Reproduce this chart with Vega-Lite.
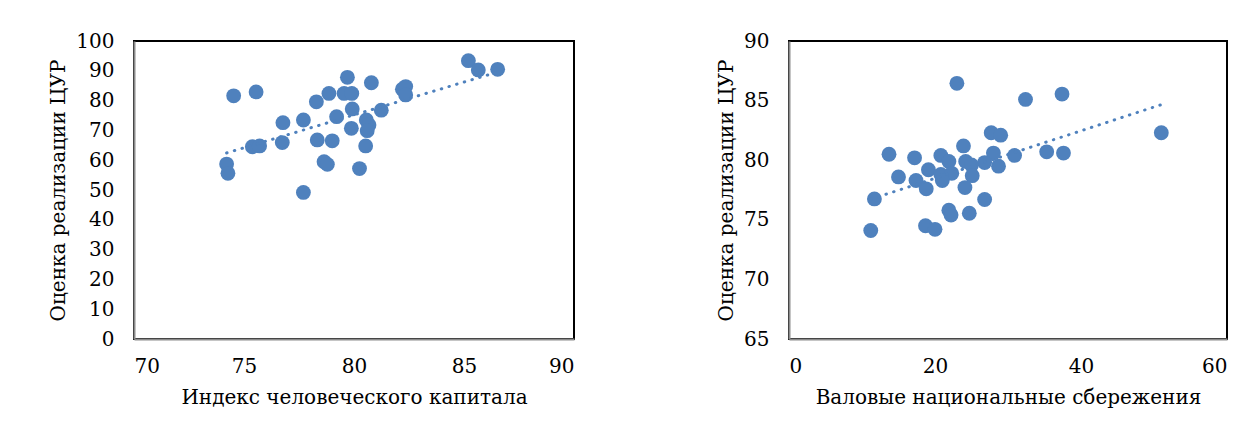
{
  "$schema": "https://vega.github.io/schema/vega-lite/v6.json",
  "background": "white",
  "padding": {"left": 47, "top": 30, "right": 5, "bottom": 5},
  "spacing": 140,
  "config": {
    "view": {"stroke": "black", "strokeWidth": 2},
    "font": "DejaVu Serif",
    "axis": {
      "grid": false,
      "ticks": false,
      "labelOverlap": false,
      "domainColor": "#8c8c8c",
      "domainWidth": 2,
      "labelFont": "DejaVu Serif",
      "labelFontSize": 20,
      "labelColor": "black",
      "titleFont": "DejaVu Serif",
      "titleFontSize": 20,
      "titleFontWeight": "normal",
      "titleColor": "black"
    },
    "axisX": {"labelPadding": 17, "titlePadding": 11},
    "axisY": {"labelPadding": 20, "titlePadding": 7}
  },
  "datasets": {
    "hci": [
      {"index": 74.21, "score": 58.7},
      {"index": 74.27, "score": 55.6},
      {"index": 74.53, "score": 81.6},
      {"index": 75.55, "score": 82.9},
      {"index": 75.38, "score": 64.5},
      {"index": 75.71, "score": 64.8},
      {"index": 76.77, "score": 72.6},
      {"index": 76.74, "score": 65.9},
      {"index": 77.70, "score": 73.5},
      {"index": 77.70, "score": 49.2},
      {"index": 78.29, "score": 79.6},
      {"index": 78.33, "score": 66.8},
      {"index": 78.86, "score": 82.4},
      {"index": 78.64, "score": 59.5},
      {"index": 78.79, "score": 58.6},
      {"index": 79.01, "score": 66.5},
      {"index": 79.21, "score": 74.6},
      {"index": 79.70, "score": 87.8},
      {"index": 79.55, "score": 82.4},
      {"index": 79.90, "score": 82.4},
      {"index": 79.92, "score": 77.2},
      {"index": 79.88, "score": 70.7},
      {"index": 80.25, "score": 57.2},
      {"index": 80.56, "score": 73.5},
      {"index": 80.53, "score": 64.8},
      {"index": 80.68, "score": 71.8},
      {"index": 80.60, "score": 69.9},
      {"index": 80.79, "score": 86.0},
      {"index": 81.24, "score": 76.8},
      {"index": 82.20, "score": 83.8},
      {"index": 82.35, "score": 84.7},
      {"index": 82.35, "score": 81.9},
      {"index": 85.20, "score": 93.4},
      {"index": 85.65, "score": 90.3},
      {"index": 86.53, "score": 90.5}
    ],
    "sav": [
      {"savings": 23.0, "score": 86.45},
      {"savings": 27.7, "score": 82.3},
      {"savings": 29.0, "score": 82.1},
      {"savings": 13.7, "score": 80.5},
      {"savings": 17.2, "score": 80.2},
      {"savings": 20.8, "score": 80.4},
      {"savings": 21.9, "score": 79.9},
      {"savings": 23.9, "score": 81.2},
      {"savings": 24.2, "score": 79.9},
      {"savings": 25.0, "score": 79.6},
      {"savings": 28.0, "score": 80.6},
      {"savings": 26.8, "score": 79.8},
      {"savings": 28.7, "score": 79.5},
      {"savings": 30.9, "score": 80.4},
      {"savings": 19.1, "score": 79.2},
      {"savings": 15.0, "score": 78.6},
      {"savings": 17.4, "score": 78.3},
      {"savings": 18.8, "score": 77.6},
      {"savings": 20.8, "score": 78.8},
      {"savings": 22.3, "score": 78.9},
      {"savings": 21.0, "score": 78.3},
      {"savings": 25.1, "score": 78.7},
      {"savings": 24.1, "score": 77.7},
      {"savings": 11.7, "score": 76.75},
      {"savings": 26.8, "score": 76.7},
      {"savings": 21.9, "score": 75.8},
      {"savings": 22.2, "score": 75.4},
      {"savings": 24.7, "score": 75.55},
      {"savings": 11.2, "score": 74.1},
      {"savings": 18.7, "score": 74.5},
      {"savings": 20.0, "score": 74.2},
      {"savings": 32.4, "score": 85.1},
      {"savings": 37.4, "score": 85.55},
      {"savings": 35.3, "score": 80.7},
      {"savings": 37.6, "score": 80.6},
      {"savings": 51.0, "score": 82.3}
    ]
  },
  "hconcat": [
    {
      "width": 440,
      "height": 298,
      "data": {"name": "hci"},
      "layer": [
        {
          "mark": {"type": "circle", "size": 220, "color": "#4F81BD", "opacity": 1},
          "encoding": {
            "x": {"field": "index", "type": "quantitative", "scale": {"domain": [70, 90], "nice": false, "zero": false}, "axis": {"tickCount": 4, "labelOverlap": false, "title": "Индекс человеческого капитала"}},
            "y": {"field": "score", "type": "quantitative", "scale": {"domain": [0, 100], "nice": false}, "axis": {"tickCount": 10, "labelOverlap": false, "title": "Оценка реализации ЦУР"}}
          }
        },
        {
          "transform": [{"regression": "score", "on": "index"}],
          "mark": {"type": "line", "color": "#4F81BD", "strokeWidth": 3, "strokeDash": [0.5, 7.5], "strokeCap": "round"},
          "encoding": {
            "x": {"field": "index", "type": "quantitative"},
            "y": {"field": "score", "type": "quantitative"}
          }
        }
      ]
    },
    {
      "width": 438,
      "height": 298,
      "data": {"name": "sav"},
      "layer": [
        {
          "mark": {"type": "circle", "size": 220, "color": "#4F81BD", "opacity": 1},
          "encoding": {
            "x": {"field": "savings", "type": "quantitative", "scale": {"domain": [0, 60], "nice": false}, "axis": {"tickCount": 3, "labelOverlap": false, "title": "Валовые национальные сбережения"}},
            "y": {"field": "score", "type": "quantitative", "scale": {"domain": [65, 90], "nice": false, "zero": false}, "axis": {"tickCount": 5, "labelOverlap": false, "title": "Оценка реализации ЦУР"}}
          }
        },
        {
          "transform": [{"regression": "score", "on": "savings"}],
          "mark": {"type": "line", "color": "#4F81BD", "strokeWidth": 3, "strokeDash": [0.5, 7.5], "strokeCap": "round"},
          "encoding": {
            "x": {"field": "savings", "type": "quantitative"},
            "y": {"field": "score", "type": "quantitative"}
          }
        }
      ]
    }
  ]
}
